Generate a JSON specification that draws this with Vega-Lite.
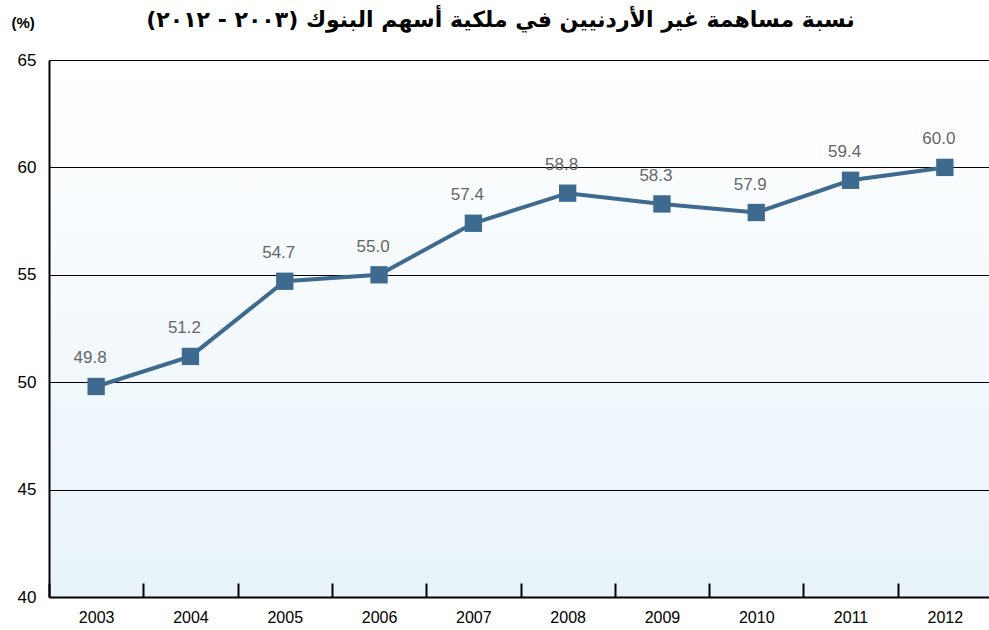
{
  "$schema": "https://vega.github.io/schema/vega-lite/v6.json",
  "width": 943,
  "height": 537,
  "autosize": {"type": "none"},
  "padding": {"left": 49, "top": 60, "right": 0, "bottom": 33},
  "background": "#ffffff",
  "title": {
    "text": "نسبة مساهمة غير الأردنيين في ملكية أسهم البنوك (٢٠٠٣ - ٢٠١٢)",
    "font": "DejaVu Sans",
    "fontSize": 22,
    "fontWeight": "bold",
    "color": "#000000",
    "anchor": "middle",
    "offset": -17,
    "dx": -20
  },
  "config": {
    "view": {
      "stroke": null,
      "fill": {
        "gradient": "linear",
        "x1": 0, "y1": 0, "x2": 0, "y2": 1,
        "stops": [
          {"offset": 0, "color": "#ffffff"},
          {"offset": 1, "color": "#e8f3fa"}
        ]
      }
    },
    "font": "Liberation Sans"
  },
  "data": {
    "values": [
      {"year": "2003", "value": 49.8},
      {"year": "2004", "value": 51.2},
      {"year": "2005", "value": 54.7},
      {"year": "2006", "value": 55.0},
      {"year": "2007", "value": 57.4},
      {"year": "2008", "value": 58.8},
      {"year": "2009", "value": 58.3},
      {"year": "2010", "value": 57.9},
      {"year": "2011", "value": 59.4},
      {"year": "2012", "value": 60.0}
    ]
  },
  "encoding": {
    "x": {
      "field": "year",
      "type": "ordinal",
      "scale": {"paddingInner": 0, "paddingOuter": 0},
      "axis": {
        "title": null,
        "labelAngle": 0,
        "labelFontSize": 16,
        "labelColor": "#000000",
        "labelPadding": 26,
        "tickBand": "extent",
        "tickSize": -14,
        "tickWidth": 2,
        "tickColor": "#000000",
        "domainColor": "#000000",
        "domainWidth": 2,
        "grid": false
      }
    },
    "y": {
      "field": "value",
      "type": "quantitative",
      "scale": {"domain": [40, 65], "nice": false, "zero": false},
      "axis": {
        "title": "(%)",
        "titleAngle": 0,
        "titleX": -38,
        "titleY": -30,
        "titleAlign": "left",
        "titleFontSize": 15,
        "titleFontWeight": "bold",
        "titleColor": "#000000",
        "values": [40, 45, 50, 55, 60, 65],
        "labelFontSize": 17,
        "labelColor": "#000000",
        "labelPadding": 13,
        "ticks": false,
        "domainColor": "#000000",
        "domainWidth": 2,
        "grid": true,
        "gridColor": "#000000",
        "gridWidth": 1
      }
    }
  },
  "layer": [
    {
      "mark": {"type": "line", "color": "#3d6a8e", "strokeWidth": 4}
    },
    {
      "mark": {"type": "square", "color": "#3d6a8e", "size": 300, "opacity": 1, "filled": true}
    },
    {
      "mark": {"type": "text", "dy": -28, "dx": -6, "fontSize": 17, "color": "#666666"},
      "encoding": {"text": {"field": "value", "type": "quantitative", "format": ".1f"}}
    }
  ]
}
